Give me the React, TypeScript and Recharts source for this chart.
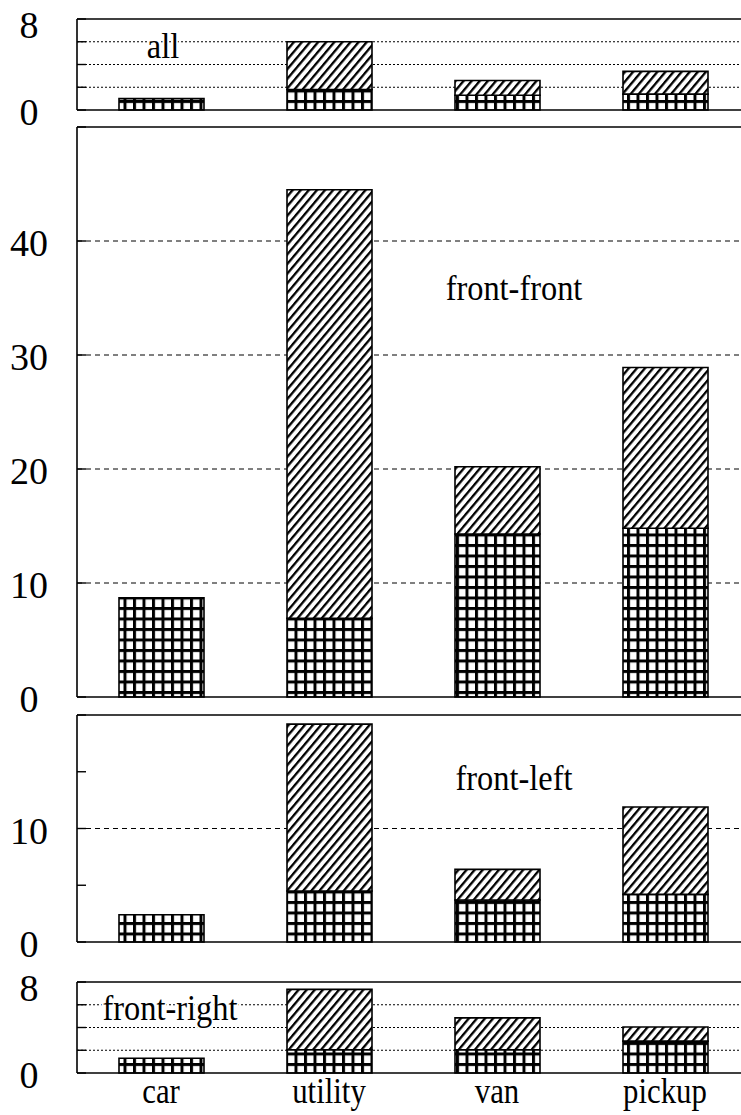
import React from 'react';
import { BarChart, Bar, XAxis, YAxis, CartesianGrid, ReferenceLine } from 'recharts';

const categories = ['car', 'utility', 'van', 'pickup'];

// lower part of each bar is grid-hatched, upper part is diagonal-hatched
const allLower = [1.0, 1.8, 1.3, 1.4];
const allUpper = [0, 4.2, 1.3, 2.0];
const frontFrontLower = [8.7, 6.9, 14.3, 14.8];
const frontFrontUpper = [0, 37.6, 5.9, 14.1];
const frontLeftLower = [2.4, 4.5, 3.7, 4.2];
const frontLeftUpper = [0, 14.7, 2.7, 7.7];
const frontRightLower = [1.3, 2.05, 2.05, 2.8];
const frontRightUpper = [0, 5.3, 2.8, 1.25];

const smallTicks = [0, 2, 4, 6, 8];
const smallLabels = [0, 8];
const smallGrid = [2, 4, 6];
const frontFrontTicks = [0, 10, 20, 30, 40, 50];
const frontFrontLabels = [0, 10, 20, 30, 40];
const frontFrontGrid = [10, 20, 30, 40];
const frontLeftTicks = [0, 5, 10, 15, 20];
const frontLeftLabels = [0, 10];
const frontLeftGrid = [10];

const FONT = "'Liberation Serif', 'DejaVu Serif', serif";
const AXIS_X = 77;
const PAD = 24;

const panels = [
  { title: 'all', lower: allLower, upper: allUpper, max: 8, ticks: smallTicks, labels: smallLabels, grid: smallGrid, dash: '2 2', top: 19, bottom: 110, tx: 163, ty: 58 },
  { title: 'front-front', lower: frontFrontLower, upper: frontFrontUpper, max: 50, ticks: frontFrontTicks, labels: frontFrontLabels, grid: frontFrontGrid, dash: '5 4', top: 127, bottom: 697, tx: 514, ty: 300 },
  { title: 'front-left', lower: frontLeftLower, upper: frontLeftUpper, max: 20, ticks: frontLeftTicks, labels: frontLeftLabels, grid: frontLeftGrid, dash: '5 4', top: 715, bottom: 942, tx: 514, ty: 790 },
  { title: 'front-right', lower: frontRightLower, upper: frontRightUpper, max: 8, ticks: smallTicks, labels: smallLabels, grid: smallGrid, dash: '2 2', top: 982, bottom: 1073, tx: 170, ty: 1020 },
];

function YTick(props: any) {
  const { y, payload, labels, max } = props;
  const show = labels.includes(payload.value);
  // the top label sits a little below its tick, as in the original
  const dy = payload.value === max ? 19 : 15;
  return (
    <g>
      <line x1={AXIS_X} x2={AXIS_X + 9} y1={y} y2={y} stroke="#000" strokeWidth={1.4} />
      {show && (
        <text x={29} y={y} dy={dy} textAnchor="middle" style={{ fontFamily: FONT, fontSize: 38 }} fill="#000">
          {payload.value}
        </text>
      )}
    </g>
  );
}

function XTick(props: any) {
  const { x, y, payload } = props;
  return (
    <text
      x={0}
      y={0}
      textAnchor="middle"
      transform={`translate(${x},${y + 30}) scale(0.88,1)`}
      style={{ fontFamily: FONT, fontSize: 35 }}
      fill="#000"
    >
      {payload.value}
    </text>
  );
}

function Panel({ p, showX }: { p: any; showX: boolean }) {
  const data = categories.map((c, i) => ({ name: c, lower: p.lower[i], upper: p.upper[i] }));
  const plotH = p.bottom - p.top;
  const bottomSpace = showX ? 42 : PAD;
  const offset = p.top - PAD;
  return (
    <div style={{ position: 'absolute', left: 0, top: offset }}>
      <BarChart
        width={749}
        height={PAD + plotH + bottomSpace}
        data={data}
        margin={{ top: PAD, right: 0, bottom: showX ? 0 : PAD, left: 0 }}
        barSize={85}
        style={{ overflow: 'visible' }}
      >
        <CartesianGrid vertical={false} horizontalValues={p.grid} stroke="#000" strokeDasharray={p.dash} strokeWidth={1} />
        <XAxis
          dataKey="name"
          hide={!showX}
          height={42}
          axisLine={false}
          tickLine={false}
          tickSize={0}
          tickMargin={0}
          interval={0}
          tick={<XTick />}
        />
        <YAxis
          type="number"
          domain={[0, p.max]}
          ticks={p.ticks}
          interval={0}
          width={AXIS_X}
          axisLine={{ stroke: '#000', strokeWidth: 1.6 }}
          tickLine={false}
          tick={<YTick labels={p.labels} max={p.max} />}
        />
        <Bar dataKey="lower" stackId="s" fill="url(#cross)" stroke="#000" strokeWidth={1.6} isAnimationActive={false} />
        <Bar dataKey="upper" stackId="s" fill="url(#diag)" stroke="#000" strokeWidth={1.6} isAnimationActive={false} />
        <ReferenceLine y={0} stroke="#000" strokeWidth={1.6} />
        <ReferenceLine y={p.max} stroke="#000" strokeWidth={1.6} />
        <text
          x={0}
          y={0}
          transform={`translate(${p.tx},${p.ty - offset}) scale(0.9,1)`}
          textAnchor="middle"
          style={{ fontFamily: FONT, fontSize: 36 }}
          fill="#000"
          stroke="#fff"
          strokeWidth={4}
          paintOrder="stroke"
        >
          {p.title}
        </text>
      </BarChart>
    </div>
  );
}

export default function App() {
  return (
    <div style={{ position: 'absolute', left: 0, top: 0, width: 741, height: 1115, overflow: 'hidden', background: '#fff' }}>
      <svg width={0} height={0} style={{ position: 'absolute' }}>
        <defs>
          <pattern id="cross" patternUnits="userSpaceOnUse" width={9.5} height={10.5}>
            <rect width={9.5} height={10.5} fill="#fff" />
            <rect x={0} y={0} width={3} height={10.5} fill="#000" />
            <rect x={0} y={0} width={9.5} height={3} fill="#000" />
          </pattern>
          <pattern id="diag" patternUnits="userSpaceOnUse" width={6.2} height={20} patternTransform="rotate(40)">
            <rect width={6.2} height={20} fill="#fff" />
            <rect x={0} y={0} width={2.3} height={20} fill="#000" />
          </pattern>
        </defs>
      </svg>
      {panels.map((p, i) => (
        <Panel key={p.title} p={p} showX={i === panels.length - 1} />
      ))}
    </div>
  );
}
